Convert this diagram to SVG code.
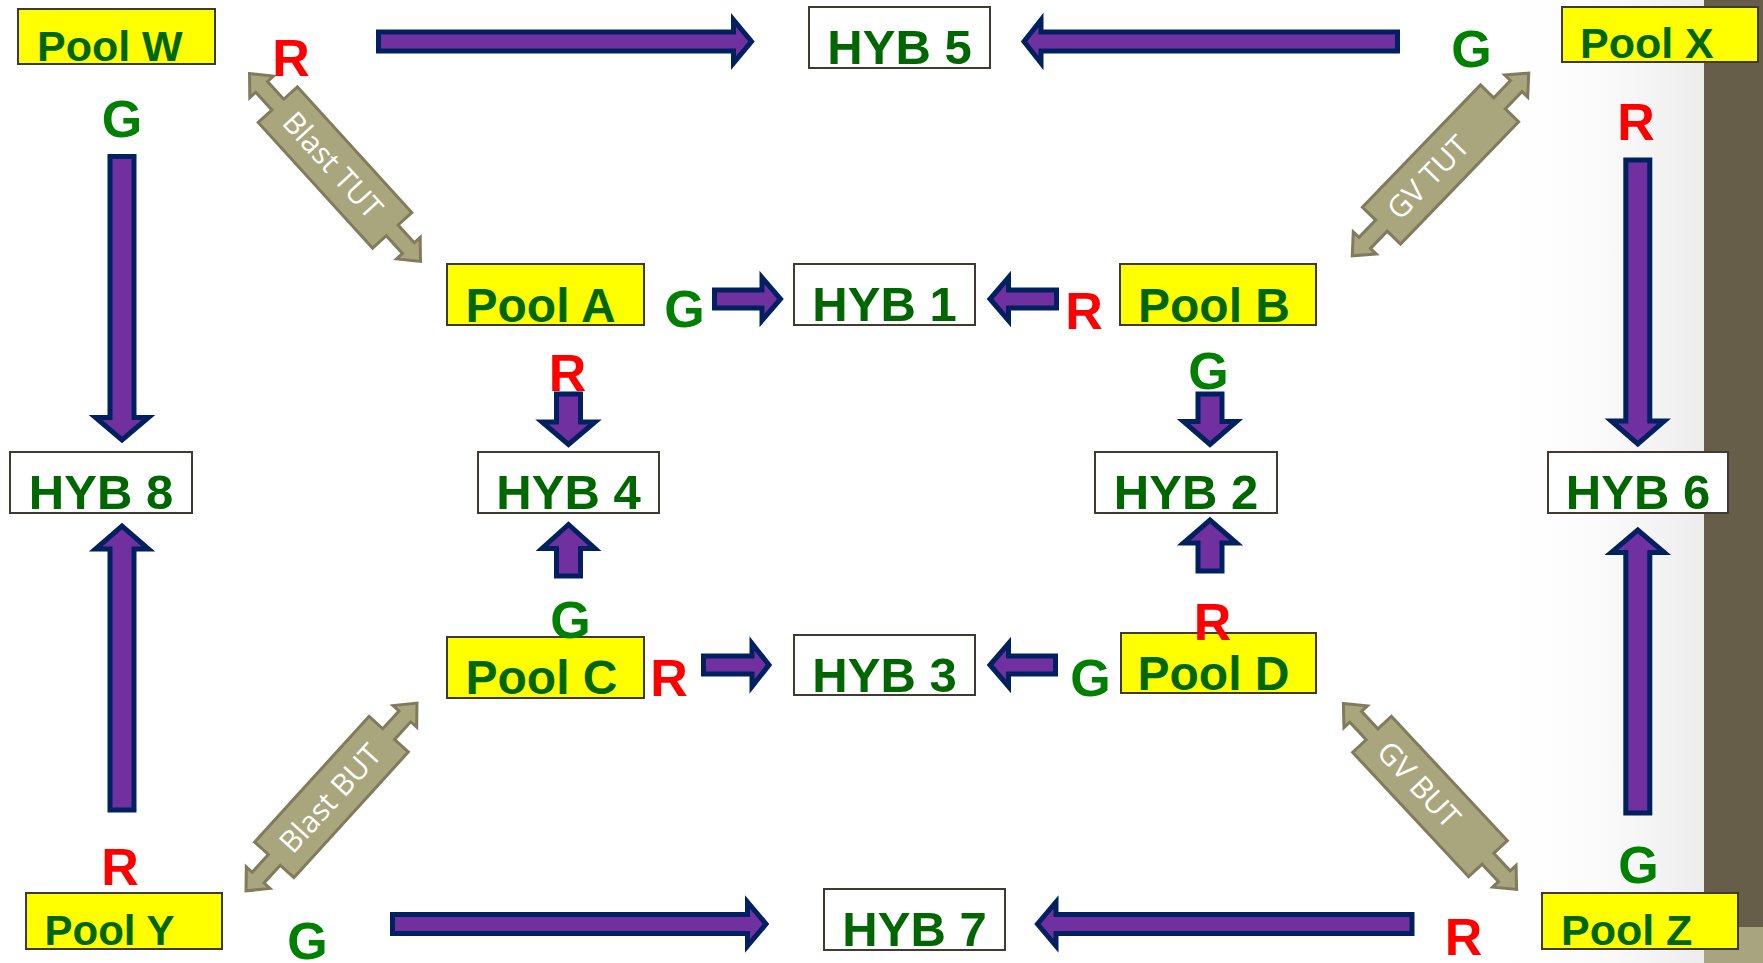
<svg xmlns="http://www.w3.org/2000/svg" width="1763" height="963" viewBox="0 0 1763 963">
  <defs>
    <linearGradient id="edgeShade" x1="0" y1="0" x2="1" y2="0">
      <stop offset="0" stop-color="#ffffff" stop-opacity="0"/>
      <stop offset="1" stop-color="#ececec" stop-opacity="1"/>
    </linearGradient>
    <!-- double-headed khaki arrow, drawn along the x axis and centred on the origin -->
    <polygon id="dbl" points="-127,0 -109,-16 -109,-8 -85,-8 -85,-26.5 85,-26.5 85,-8 109,-8 109,-16 127,0 109,16 109,8 85,8 85,26.5 -85,26.5 -85,8 -109,8 -109,16"/>
  </defs>
  <style>
    .pool { fill: #ffff00; stroke: #3c3a33; stroke-width: 2; }
    .hyb { fill: #ffffff; stroke: #3f3b33; stroke-width: 2; }
    .ptxt { font-family: "Liberation Sans", Arial, sans-serif; font-weight: bold; fill: #006600; }
    .htxt { font-family: "Liberation Sans", Arial, sans-serif; font-weight: bold; font-size: 49px; fill: #006600; text-anchor: middle; }
    .blk { fill: #7030a0; stroke: #002060; stroke-width: 5; stroke-linejoin: miter; }
    .dbl { fill: #a9a57c; stroke: #7f7b5c; stroke-width: 3; stroke-linejoin: miter; }
    .dtxt { font-family: "Open Sans", "DejaVu Sans", sans-serif; font-size: 30px; fill: #ffffff; }
    .lbl { font-family: "Liberation Sans", Arial, sans-serif; font-weight: bold; font-size: 52px; text-anchor: middle; }
    .r { fill: #ff0000; }
    .g { fill: #008000; }
  </style>

  <!-- page background and right-hand band -->
  <rect x="0" y="0" width="1763" height="963" fill="#ffffff"/>
  <rect x="1490" y="0" width="214" height="963" fill="url(#edgeShade)"/>
  <rect x="1704" y="0" width="59" height="927" fill="#665e48"/>
  <rect x="1704" y="927" width="59" height="36" fill="#a8a47f"/>

  <g id="connectors">
    <!-- outer ring -->
    <polygon class="blk" points="378.5,32 733.5,32 733.5,20 751.5,41.5 733.5,63 733.5,51 378.5,51"/>
    <polygon class="blk" points="1397.5,32 1041,32 1041,20 1024,41.5 1041,63 1041,51 1397.5,51"/>
    <polygon class="blk" points="392.5,914.5 747.5,914.5 747.5,902 766,924 747.5,946 747.5,933.5 392.5,933.5"/>
    <polygon class="blk" points="1412,914.5 1056,914.5 1056,902 1037.5,924 1056,946 1056,933.5 1412,933.5"/>
    <polygon class="blk" points="110,156.5 110,417.5 95.5,417.5 122,440 148.5,417.5 134,417.5 134,156.5"/>
    <polygon class="blk" points="110,810 110,549 95.5,549 122,526 148.5,549 134,549 134,810"/>
    <polygon class="blk" points="1625.8,160 1625.8,421 1611.3,421 1637.8,444 1664.3,421 1649.8,421 1649.8,160"/>
    <polygon class="blk" points="1625.8,813 1625.8,552.5 1611.3,552.5 1637.8,530 1664.3,552.5 1649.8,552.5 1649.8,813"/>
    <!-- inner ring -->
    <polygon class="blk" points="556.5,394 556.5,422 542,422 568.5,444.5 595,422 580.5,422 580.5,394"/>
    <polygon class="blk" points="556.5,576 556.5,548.5 542,548.5 568.5,524.5 595,548.5 580.5,548.5 580.5,576"/>
    <polygon class="blk" points="1198,394 1198,421.5 1183.5,421.5 1210,444.5 1236.5,421.5 1222,421.5 1222,394"/>
    <polygon class="blk" points="1198,571 1198,543 1183.5,543 1210,520 1236.5,543 1222,543 1222,571"/>
    <polygon class="blk" points="714.5,290 762,290 762,277.5 780.5,299 762,320.5 762,308 714.5,308"/>
    <polygon class="blk" points="1056.5,290 1008.5,290 1008.5,277.5 990,299 1008.5,320.5 1008.5,308 1056.5,308"/>
    <polygon class="blk" points="703.5,656 752,656 752,643.5 769,665 752,686.5 752,674 703.5,674"/>
    <polygon class="blk" points="1055.5,656 1008.5,656 1008.5,643.5 990,665 1008.5,686.5 1008.5,674 1055.5,674"/>
    <!-- diagonal two-way links -->
    <g transform="translate(335 167.5) rotate(47.7)">
      <use href="#dbl" class="dbl"/>
      <text class="dtxt" x="-69" y="10.5">Blast TUT</text>
    </g>
    <g transform="translate(1440.5 164.5) rotate(-46)">
      <use href="#dbl" class="dbl"/>
      <text class="dtxt" x="-69" y="10.5">GV TUT</text>
    </g>
    <g transform="translate(331.5 797) rotate(-47.7)">
      <use href="#dbl" class="dbl"/>
      <text class="dtxt" x="-69" y="10.5">Blast BUT</text>
    </g>
    <g transform="translate(1430 796.5) rotate(47)">
      <use href="#dbl" class="dbl"/>
      <text class="dtxt" x="-69" y="10.5">GV BUT</text>
    </g>
  </g>

  <!-- pools -->
  <g id="pool-w"><rect class="pool" x="18" y="9" width="197" height="55"/><text class="ptxt" x="37" y="61" font-size="43">Pool W</text></g>
  <g id="pool-x"><rect class="pool" x="1562" y="7" width="196" height="55"/><text class="ptxt" x="1580" y="58" font-size="43">Pool X</text></g>
  <g id="pool-a"><rect class="pool" x="447" y="264" width="197" height="61"/><text class="ptxt" x="465.5" y="321.5" font-size="48">Pool A</text></g>
  <g id="pool-b"><rect class="pool" x="1120" y="264" width="196" height="61"/><text class="ptxt" x="1138" y="321.5" font-size="48">Pool B</text></g>
  <g id="pool-c"><rect class="pool" x="447" y="637" width="197" height="61"/><text class="ptxt" x="465.5" y="694" font-size="48">Pool C</text></g>
  <g id="pool-d"><rect class="pool" x="1121" y="633" width="195" height="60"/><text class="ptxt" x="1137.5" y="689.5" font-size="48">Pool D</text></g>
  <g id="pool-y"><rect class="pool" x="26" y="893" width="196" height="56"/><text class="ptxt" x="44.5" y="945" font-size="42">Pool Y</text></g>
  <g id="pool-z"><rect class="pool" x="1542" y="893" width="196" height="56"/><text class="ptxt" x="1561" y="945" font-size="43">Pool Z</text></g>

  <!-- hybrids -->
  <g id="hyb-1"><rect class="hyb" x="794" y="264" width="181" height="61"/><text class="htxt" x="884.5" y="321">HYB 1</text></g>
  <g id="hyb-2"><rect class="hyb" x="1095" y="452" width="182" height="61"/><text class="htxt" x="1186" y="509">HYB 2</text></g>
  <g id="hyb-3"><rect class="hyb" x="794" y="635" width="181" height="60"/><text class="htxt" x="884.5" y="691.5">HYB 3</text></g>
  <g id="hyb-4"><rect class="hyb" x="478" y="452" width="181" height="61"/><text class="htxt" x="568.5" y="509">HYB 4</text></g>
  <g id="hyb-5"><rect class="hyb" x="809" y="7" width="181" height="61"/><text class="htxt" x="899.5" y="64">HYB 5</text></g>
  <g id="hyb-6"><rect class="hyb" x="1548" y="452" width="180" height="61"/><text class="htxt" x="1638" y="509">HYB 6</text></g>
  <g id="hyb-7"><rect class="hyb" x="824" y="889" width="181" height="61"/><text class="htxt" x="914.5" y="946">HYB 7</text></g>
  <g id="hyb-8"><rect class="hyb" x="10" y="452" width="182" height="61"/><text class="htxt" x="101" y="509">HYB 8</text></g>

  <!-- R / G port labels -->
  <g id="labels">
    <text class="lbl r" x="291" y="76">R</text>
    <text class="lbl g" x="122" y="137">G</text>
    <text class="lbl g" x="1471.5" y="67">G</text>
    <text class="lbl r" x="1636" y="140">R</text>
    <text class="lbl g" x="684.5" y="327">G</text>
    <text class="lbl r" x="567.5" y="391">R</text>
    <text class="lbl r" x="1084" y="329">R</text>
    <text class="lbl g" x="1208.5" y="388.5">G</text>
    <text class="lbl g" x="570.5" y="637.5">G</text>
    <text class="lbl r" x="669" y="696">R</text>
    <text class="lbl g" x="1090.5" y="696">G</text>
    <text class="lbl r" x="1212.5" y="640">R</text>
    <text class="lbl r" x="120" y="885">R</text>
    <text class="lbl g" x="307.5" y="958.5">G</text>
    <text class="lbl g" x="1638.5" y="882.5">G</text>
    <text class="lbl r" x="1463.5" y="955">R</text>
  </g>
</svg>
